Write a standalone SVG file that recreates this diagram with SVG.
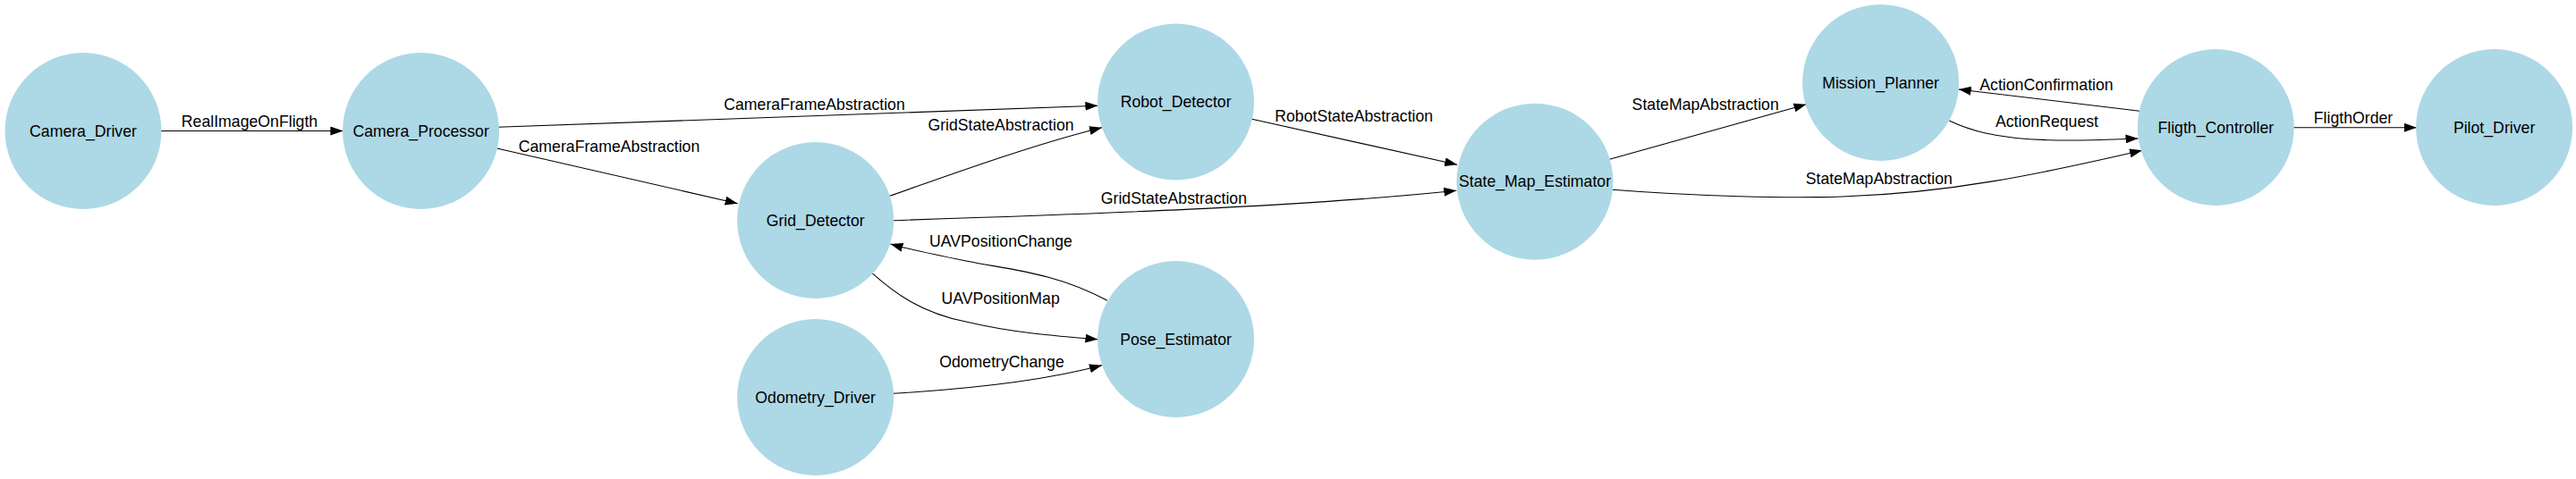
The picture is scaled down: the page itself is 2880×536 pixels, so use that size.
<svg xmlns="http://www.w3.org/2000/svg" width="2880" height="536" viewBox="0 0 2880 536">
<style>
.node ellipse{fill:#add8e6;stroke:none}
.node text{font-family:"Liberation Sans",Arial,sans-serif;font-size:17.7px;text-anchor:middle;fill:#000}
.edges path{fill:none;stroke:#000;stroke-width:1.1;marker-end:url(#arr)}
.edges text{font-family:"Liberation Sans",Arial,sans-serif;font-size:17.7px;text-anchor:middle;fill:#000}
</style>
<defs>
<marker id="arr" markerUnits="userSpaceOnUse" markerWidth="14" markerHeight="10" refX="14" refY="5" orient="auto">
<path d="M0,0 L14,5 L0,10 z" fill="#000"/>
</marker>
</defs>
<rect width="2880" height="536" fill="#fff"/>
<g id="edges" class="edges">
<path d="M180,146.5 L383.4,146.5"/>
<text x="279" y="141.5">RealImageOnFligth</text>
<path d="M556.5,142.3 L1227.4,118.3"/>
<text x="910.5" y="122.7">CameraFrameAbstraction</text>
<path d="M555.6,166 L824.7,227.7"/>
<text x="681" y="170">CameraFrameAbstraction</text>
<path d="M994.6,219.3 C1050,200 1150,163 1232,142.7"/>
<text x="1119" y="146">GridStateAbstraction</text>
<path d="M998.7,246.7 C1200,240 1450,232 1628.3,213.3"/>
<text x="1312.4" y="228.3">GridStateAbstraction</text>
<path d="M1399.6,133.3 L1629.2,184.3"/>
<text x="1513.7" y="136">RobotStateAbstraction</text>
<path d="M1238,336.3 C1180,305 1130,302 1080,292 C1050,286 1020,280 995.5,273"/>
<text x="1119" y="275.5">UAVPositionChange</text>
<path d="M974.8,305.3 C1000,328 1030,350 1080,360 C1130,372 1180,376 1227.4,379.7"/>
<text x="1118.6" y="339.7">UAVPositionMap</text>
<path d="M998.7,440.3 C1070,436 1160,428 1232,408.7"/>
<text x="1120" y="410.7">OdometryChange</text>
<path d="M1799.5,178.3 L2019.5,116.7"/>
<text x="1906.7" y="122.7">StateMapAbstraction</text>
<path d="M1802.8,212.3 C1900,220 2000,222 2060,220 C2180,216 2280,195 2395,168.3"/>
<text x="2100.8" y="206">StateMapAbstraction</text>
<path d="M2391.9,124.3 L2189.8,100"/>
<text x="2288" y="100.7">ActionConfirmation</text>
<path d="M2179.3,135 C2200,145 2230,155 2290,156.7 C2330,158 2360,156 2390.5,155"/>
<text x="2288.5" y="141.7">ActionRequest</text>
<path d="M2564.1,142.7 L2701.8,142.7"/>
<text x="2631" y="137.7">FligthOrder</text>
</g>
<g id="Camera_Driver" class="node"><ellipse cx="93" cy="146.5" rx="87.5" ry="87.5"/><text x="93" y="152.5">Camera_Driver</text></g>
<g id="Camera_Processor" class="node"><ellipse cx="470.6" cy="146.5" rx="87.5" ry="87.5"/><text x="470.6" y="152.5">Camera_Processor</text></g>
<g id="Robot_Detector" class="node"><ellipse cx="1314.6" cy="114" rx="87.5" ry="87.5"/><text x="1314.6" y="120">Robot_Detector</text></g>
<g id="Grid_Detector" class="node"><ellipse cx="911.7" cy="246.5" rx="87.5" ry="87.5"/><text x="911.7" y="252.5">Grid_Detector</text></g>
<g id="Odometry_Driver" class="node"><ellipse cx="911.7" cy="444.5" rx="87.5" ry="87.5"/><text x="911.7" y="450.5">Odometry_Driver</text></g>
<g id="Pose_Estimator" class="node"><ellipse cx="1314.6" cy="379.5" rx="87.5" ry="87.5"/><text x="1314.6" y="385.5">Pose_Estimator</text></g>
<g id="State_Map_Estimator" class="node"><ellipse cx="1716" cy="203.2" rx="87.5" ry="87.5"/><text x="1716" y="209.2">State_Map_Estimator</text></g>
<g id="Mission_Planner" class="node"><ellipse cx="2102.6" cy="92.5" rx="87.5" ry="87.5"/><text x="2102.6" y="98.5">Mission_Planner</text></g>
<g id="Fligth_Controller" class="node"><ellipse cx="2477.3" cy="142.5" rx="87.5" ry="87.5"/><text x="2477.3" y="148.5">Fligth_Controller</text></g>
<g id="Pilot_Driver" class="node"><ellipse cx="2788.6" cy="142.5" rx="87.5" ry="87.5"/><text x="2788.6" y="148.5">Pilot_Driver</text></g>
</svg>
